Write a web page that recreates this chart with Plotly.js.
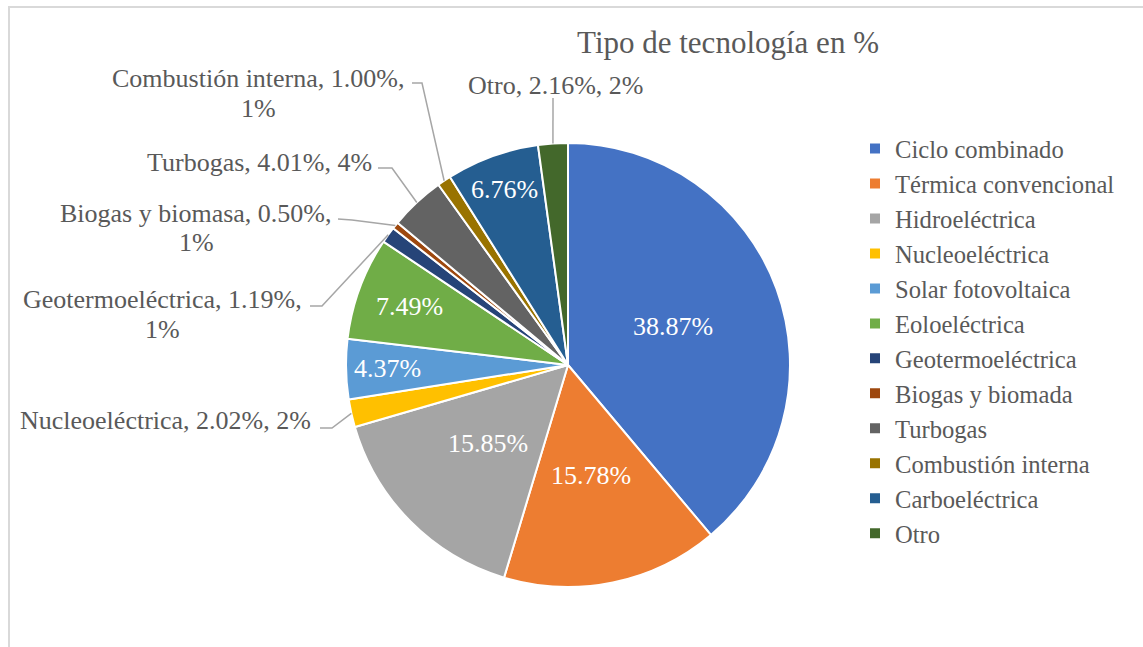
<!DOCTYPE html>
<html>
<head>
<meta charset="utf-8">
<script src="https://cdn.plot.ly/plotly-3.0.1.min.js"></script>
<style>
  html, body { margin: 0; padding: 0; background: #fff; }
  #wrap { position: relative; width: 1143px; height: 647px; overflow: hidden; }
  #chart { position: absolute; left: 0; top: 0; width: 1143px; height: 647px; }
  #frame { position: absolute; left: 8px; top: 6px; width: 1200px; height: 700px;
           border-left: 2px solid #d9d9d9; border-top: 2px solid #d9d9d9; pointer-events: none; }
</style>
</head>
<body>
<div id="wrap"><div id="chart"></div><div id="frame"></div></div>
<script>
// ---- data ----
const categories = ["Ciclo combinado", "Térmica convencional", "Hidroeléctrica", "Nucleoeléctrica",
  "Solar fotovoltaica", "Eoloeléctrica", "Geotermoeléctrica", "Biogas y biomada", "Turbogas",
  "Combustión interna", "Carboeléctrica", "Otro"];
const calloutNames = ["Ciclo combinado", "Térmica convencional", "Hidroeléctrica", "Nucleoeléctrica",
  "Solar fotovoltaica", "Eoloeléctrica", "Geotermoeléctrica", "Biogas y biomasa", "Turbogas",
  "Combustión interna", "Carboeléctrica", "Otro"];
const values = [38.87, 15.78, 15.85, 2.02, 4.37, 7.49, 1.19, 0.50, 4.01, 1.00, 6.76, 2.16];
const colors = ["#4472C4", "#ED7D31", "#A5A5A5", "#FFC000", "#5B9BD5", "#70AD47", "#264478",
  "#9E480E", "#636363", "#997300", "#255E91", "#43682B"];
const titleText = "Tipo de tecnología en %";

// ---- layout constants ----
const W = 1143, H = 647;
const cx = 568, cy = 365, R = 222;
const FONT = '"Liberation Serif", "Times New Roman", serif';
const TXT = "#595959";
const px = x => x / W;
const py = y => 1 - y / H;

// inside labels: slice index -> radial fraction
const insideLabels = {0: 0.505, 1: 0.51, 2: 0.505, 4: 0.815, 5: 0.76, 10: 0.84};
// outside callouts: slice index -> text centre x, first line y, line break, leader elbow points
const callouts = {
  11: {x: 555, y: 85, br: false, pts: [[553, 98]]},
  9:  {x: 258, y: 78, br: true,  pts: [[412, 83], [422, 83]]},
  8:  {x: 259, y: 162, br: false, pts: [[378, 168], [392, 168]]},
  7:  {x: 196, y: 213, br: true,  pts: [[338, 219], [352, 220]]},
  6:  {x: 162, y: 300, br: true,  pts: [[310, 306], [322, 306]]},
  3:  {x: 165, y: 420, br: false, pts: [[320, 428], [332, 428]]}
};
const LINE_GAP = 30;

// ---- geometry from data ----
const total = values.reduce((a, b) => a + b, 0);
const mids = [];
let cum = 0;
values.forEach(v => { mids.push((cum + v / 2) / total * 360); cum += v; });
const polar = (deg, r) => [cx + r * Math.sin(deg * Math.PI / 180), cy - r * Math.cos(deg * Math.PI / 180)];

const annotations = [];
const shapes = [];

Object.keys(insideLabels).forEach(k => {
  const i = +k;
  const [x, y] = polar(mids[i], R * insideLabels[k]);
  annotations.push({
    xref: "paper", yref: "paper", x: px(x), y: py(y), xanchor: "center", yanchor: "middle",
    showarrow: false, text: values[i].toFixed(2) + "%",
    font: {family: FONT, size: 26, color: "#ffffff"}
  });
});

Object.keys(callouts).forEach(k => {
  const i = +k, c = callouts[k];
  const lines = c.br
    ? [calloutNames[i] + ", " + values[i].toFixed(2) + "%,", Math.round(values[i]) + "%"]
    : [calloutNames[i] + ", " + values[i].toFixed(2) + "%, " + Math.round(values[i]) + "%"];
  lines.forEach((t, j) => {
    annotations.push({
      xref: "paper", yref: "paper", x: px(c.x), y: py(c.y + j * LINE_GAP), xanchor: "center", yanchor: "middle",
      showarrow: false, text: t,
      font: {family: FONT, size: 26, color: TXT}
    });
  });
  const end = polar(mids[i], R);
  const pts = c.pts.concat([end]);
  const path = pts.map((p, j) => (j ? "L" : "M") + px(p[0]) + "," + py(p[1])).join(" ");
  shapes.push({type: "path", xref: "paper", yref: "paper", path: path,
    line: {color: "#a6a6a6", width: 1.5}});
});

const trace = {
  type: "pie",
  labels: categories,
  values: values,
  sort: false,
  direction: "clockwise",
  rotation: 0,
  marker: {colors: colors, line: {color: "#ffffff", width: 2}},
  textinfo: "none",
  hoverinfo: "label+percent",
  domain: {x: [px(cx - R), px(cx + R)], y: [py(cy + R), py(cy - R)]}
};

const layout = {
  width: W, height: H,
  margin: {l: 0, r: 0, t: 0, b: 0},
  paper_bgcolor: "#ffffff",
  title: {text: titleText, x: px(728), xref: "paper", xanchor: "center", y: py(42), yref: "paper", yanchor: "middle",
    font: {family: FONT, size: 31, color: TXT}},
  showlegend: true,
  legend: {x: px(855), xanchor: "left", y: py(126), yanchor: "top",
    font: {family: FONT, size: 24.6, color: TXT}, itemclick: false, bgcolor: "rgba(0,0,0,0)"},
  annotations: annotations,
  shapes: shapes
};

Plotly.newPlot("chart", [trace], layout, {displayModeBar: false, staticPlot: true});
</script>
</body>
</html>
